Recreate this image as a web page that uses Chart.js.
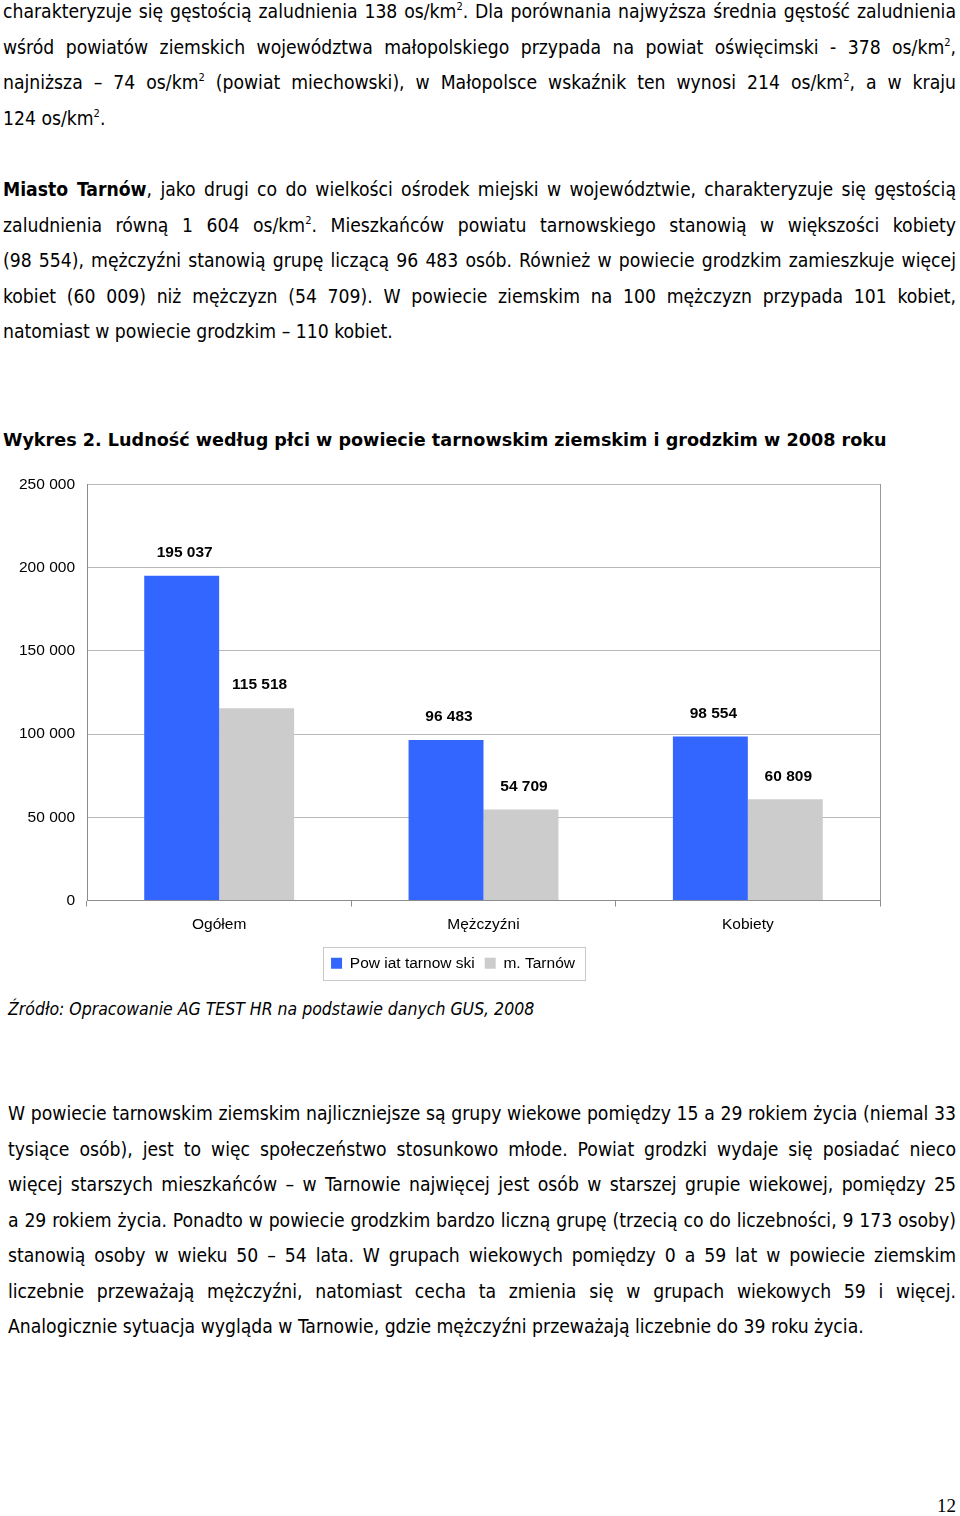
<!DOCTYPE html>
<html lang="pl">
<head>
<meta charset="utf-8">
<script src="https://cdn.jsdelivr.net/npm/chart.js@4.4.1/dist/chart.umd.min.js"></script>
<style>
  html, body { margin: 0; padding: 0; background: #fff; }
  body { width: 960px; height: 1516px; position: relative; overflow: hidden; color: #000; }
  .para { position: absolute; left: 3px; width: 953px; font-family: "DejaVu Sans Condensed", "DejaVu Sans", sans-serif; font-size: 19.2px; }
  .para div { text-align: justify; text-align-last: justify; height: 35.5px; line-height: 35.5px; white-space: nowrap; }
  .para div.last { text-align-last: left; }
  sup { font-size: 11px; line-height: 0; vertical-align: 8px; }
  #title { position: absolute; left: 3px; top: 422px; line-height: 36px; font-family: "DejaVu Sans", sans-serif; font-weight: bold; font-size: 17.6px; white-space: nowrap; }
  #source { position: absolute; left: 8px; top: 991px; line-height: 36px; font-family: "DejaVu Sans Condensed", "DejaVu Sans", sans-serif; font-style: italic; font-size: 17.5px; white-space: nowrap; }
  #chartBox { position: absolute; left: 0; top: 463px; width: 906px; height: 518px; }
  #pageNo { position: absolute; left: 937px; top: 1494px; font-family: "Liberation Serif", serif; font-size: 19px; line-height: 24px; }
</style>
</head>
<body>

<div class="para" style="top:-6px">
  <div>charakteryzuje się gęstością zaludnienia 138 os/km<sup>2</sup>. Dla porównania najwyższa średnia gęstość zaludnienia</div>
  <div>wśród powiatów ziemskich województwa małopolskiego przypada na powiat oświęcimski - 378 os/km<sup>2</sup>,</div>
  <div>najniższa – 74 os/km<sup>2</sup> (powiat miechowski), w Małopolsce wskaźnik ten wynosi 214 os/km<sup>2</sup>, a w kraju</div>
  <div class="last">124 os/km<sup>2</sup>.</div>
</div>

<div class="para" style="top:172px">
  <div><b>Miasto Tarnów</b>, jako drugi co do wielkości ośrodek miejski w województwie, charakteryzuje się gęstością</div>
  <div>zaludnienia równą 1 604 os/km<sup>2</sup>. Mieszkańców powiatu tarnowskiego stanowią w większości kobiety</div>
  <div>(98 554), mężczyźni stanowią grupę liczącą 96 483 osób. Również w powiecie grodzkim zamieszkuje więcej</div>
  <div>kobiet (60 009) niż mężczyzn (54 709). W powiecie ziemskim na 100 mężczyzn przypada 101 kobiet,</div>
  <div class="last">natomiast w powiecie grodzkim – 110 kobiet.</div>
</div>

<div id="title">Wykres 2. Ludność według płci w powiecie tarnowskim ziemskim i grodzkim w 2008 roku</div>

<div id="chartBox"><canvas id="chart"></canvas></div>

<div id="source">Źródło: Opracowanie AG TEST HR na podstawie danych GUS, 2008</div>

<div class="para" style="top:1096px; left:8px; width:948px">
  <div>W powiecie tarnowskim ziemskim najliczniejsze są grupy wiekowe pomiędzy 15 a 29 rokiem życia (niemal 33</div>
  <div>tysiące osób), jest to więc społeczeństwo stosunkowo młode. Powiat grodzki wydaje się posiadać nieco</div>
  <div>więcej starszych mieszkańców – w Tarnowie najwięcej jest osób w starszej grupie wiekowej, pomiędzy 25</div>
  <div>a 29 rokiem życia. Ponadto w powiecie grodzkim bardzo liczną grupę (trzecią co do liczebności, 9 173 osoby)</div>
  <div>stanowią osoby w wieku 50 – 54 lata. W grupach wiekowych pomiędzy 0 a 59 lat w powiecie ziemskim</div>
  <div>liczebnie przeważają mężczyźni, natomiast cecha ta zmienia się w grupach wiekowych 59 i więcej.</div>
  <div class="last">Analogicznie sytuacja wygląda w Tarnowie, gdzie mężczyźni przeważają liczebnie do 39 roku życia.</div>
</div>

<div id="pageNo">12</div>

<script>
// dane wykresu
const categories = ['Ogółem', 'Mężczyźni', 'Kobiety'];
const powiatValues = [195037, 96483, 98554];
const miastoValues = [115518, 54709, 60809];
const seriesNames = ['Pow iat tarnow ski', 'm. Tarnów'];
const yTicks = [0, 50000, 100000, 150000, 200000, 250000];

const fmt = v => String(v).replace(/\B(?=(\d{3})+(?!\d))/g, ' ');
const FONT = '"Liberation Sans", Arial, sans-serif';

// etykiety nad słupkami
const barLabels = {
    id: 'barLabels',
    afterDatasetsDraw(chart) {
        const c = chart.ctx;
        c.save();
        c.font = 'bold 15.5px ' + FONT;
        c.fillStyle = '#000';
        c.textAlign = 'center';
        c.textBaseline = 'middle';
        chart.data.datasets.forEach((ds, i) => {
            chart.getDatasetMeta(i).data.forEach((bar, j) => {
                c.fillText(fmt(ds.data[j]), bar.x + 3, bar.y - 23);
            });
        });
        c.restore();
    }
};

// ramka legendy
const legendFrame = {
    id: 'legendFrame',
    afterDraw(chart) {
        const boxes = chart.legend.legendHitBoxes;
        if (!boxes.length) return;
        const c = chart.ctx;
        const l = Math.min(...boxes.map(b => b.left)) - 8;
        const r = Math.max(...boxes.map(b => b.left + b.width)) + 10;
        const t = boxes[0].top - 9;
        const h = boxes[0].height + 17;
        c.save();
        c.strokeStyle = '#c8c8c8';
        c.lineWidth = 1;
        c.strokeRect(Math.round(l) + 0.5, Math.round(t) + 0.5, Math.round(r - l), Math.round(h));
        c.restore();
    }
};

new Chart(document.getElementById('chart'), {
    type: 'bar',
    data: {
        labels: categories,
        datasets: [
            { label: seriesNames[0], data: powiatValues, backgroundColor: '#3366FF' },
            { label: seriesNames[1], data: miastoValues, backgroundColor: '#CCCCCC' }
        ]
    },
    options: {
        responsive: true,
        maintainAspectRatio: false,
        animation: false,
        layout: { padding: { top: 8, right: 0, left: 0, bottom: 0 } },
        datasets: { bar: { barPercentage: 1, categoryPercentage: 0.567 } },
        plugins: {
            legend: {
                position: 'bottom',
                labels: { boxWidth: 11, boxHeight: 11, padding: 10, color: '#000', font: { family: FONT, size: 15.5 } }
            },
            tooltip: { enabled: false }
        },
        scales: {
            x: {
                grid: { offset: true, drawOnChartArea: false, tickLength: 6, color: '#8c8c8c' },
                border: { color: '#8c8c8c' },
                ticks: { padding: 9, color: '#000', font: { family: FONT, size: 15.5 } },
                afterFit(scale) { scale.height = 45; }
            },
            y: {
                min: 0,
                max: 250000,
                afterBuildTicks(scale) { scale.ticks = yTicks.map(v => ({ value: v })); },
                grid: { drawTicks: false, color: '#b8b8b8' },
                border: { color: '#8c8c8c' },
                ticks: { padding: 12, color: '#000', font: { family: FONT, size: 15.5 }, callback: v => fmt(v) },
                afterFit(scale) { scale.width = 87; }
            },
            // prawa krawędź ramki wykresu
            yRight: {
                position: 'right',
                min: 0,
                max: 250000,
                grid: { display: false },
                border: { color: '#999' },
                ticks: { display: false },
                afterFit(scale) { scale.width = 26; }
            }
        }
    },
    plugins: [barLabels, legendFrame]
});
</script>
</body>
</html>
